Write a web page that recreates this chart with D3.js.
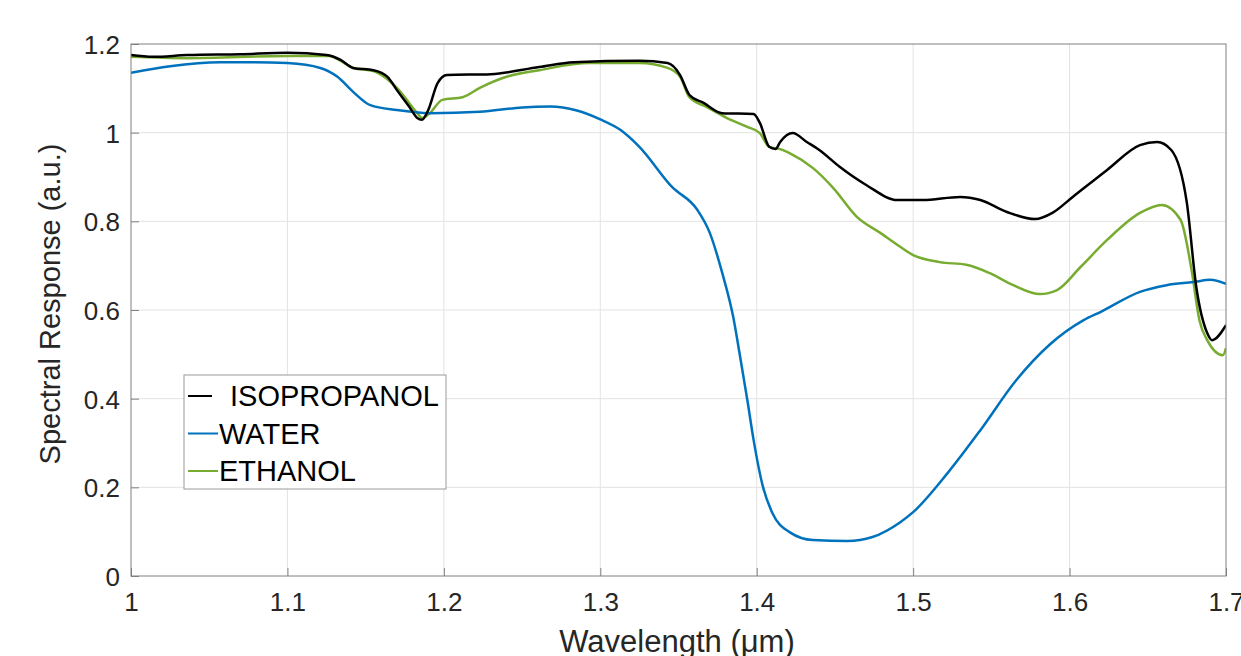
<!DOCTYPE html>
<html>
<head>
<meta charset="utf-8">
<script src="https://cdn.jsdelivr.net/npm/d3@7"></script>
<style>
  html, body { margin: 0; padding: 0; background: #fff; overflow: hidden; }
  svg { display: block; font-family: "Liberation Sans", Arial, sans-serif; }
</style>
</head>
<body>
<div id="chart"></div>
<script>
/* spectral response — three solvents */

const X_TICKS = [1, 1.1, 1.2, 1.3, 1.4, 1.5, 1.6, 1.7];
const Y_TICKS = [0, 0.2, 0.4, 0.6, 0.8, 1, 1.2];

const ISO_X = [1.000,1.014,1.036,1.070,1.100,1.125,1.134,1.142,1.155,1.164,1.170,1.178,1.183,1.186,1.190,1.196,1.202,1.230,1.261,1.283,1.325,1.343,1.351,1.357,1.366,1.378,1.398,1.402,1.408,1.412,1.415,1.423,1.432,1.440,1.453,1.470,1.490,1.506,1.530,1.543,1.560,1.578,1.589,1.602,1.624,1.645,1.656,1.665,1.675,1.681,1.688,1.691,1.700];
const ISO_Y = [1.175,1.171,1.175,1.177,1.180,1.175,1.164,1.146,1.141,1.126,1.096,1.058,1.033,1.029,1.051,1.112,1.130,1.132,1.148,1.159,1.162,1.157,1.130,1.085,1.067,1.044,1.042,1.022,0.968,0.963,0.979,0.999,0.979,0.961,0.923,0.882,0.848,0.848,0.855,0.848,0.821,0.805,0.819,0.855,0.916,0.972,0.979,0.961,0.841,0.652,0.548,0.532,0.566];

const WATER_X = [1.000,1.025,1.057,1.078,1.100,1.121,1.132,1.142,1.153,1.170,1.191,1.223,1.250,1.268,1.285,1.300,1.313,1.325,1.346,1.362,1.370,1.378,1.385,1.389,1.394,1.398,1.404,1.410,1.421,1.436,1.458,1.474,1.492,1.500,1.522,1.543,1.566,1.587,1.609,1.620,1.645,1.662,1.679,1.690,1.700];
const WATER_Y = [1.135,1.150,1.159,1.159,1.157,1.146,1.126,1.092,1.062,1.051,1.044,1.047,1.057,1.059,1.050,1.030,1.006,0.968,0.877,0.826,0.774,0.683,0.584,0.503,0.397,0.307,0.201,0.142,0.099,0.081,0.079,0.088,0.122,0.144,0.232,0.329,0.442,0.521,0.577,0.596,0.641,0.656,0.663,0.668,0.659];

const ETH_X = [1.000,1.036,1.100,1.127,1.134,1.142,1.155,1.161,1.170,1.183,1.186,1.191,1.199,1.212,1.223,1.240,1.261,1.293,1.325,1.343,1.351,1.357,1.368,1.381,1.394,1.402,1.408,1.415,1.421,1.436,1.449,1.464,1.479,1.492,1.500,1.517,1.534,1.549,1.564,1.581,1.592,1.607,1.624,1.645,1.659,1.671,1.678,1.683,1.688,1.698,1.700];
const ETH_Y = [1.171,1.168,1.173,1.173,1.162,1.146,1.139,1.128,1.101,1.044,1.033,1.044,1.074,1.080,1.101,1.126,1.141,1.157,1.157,1.146,1.126,1.080,1.058,1.033,1.013,0.999,0.968,0.963,0.954,0.920,0.875,0.810,0.774,0.742,0.724,0.708,0.702,0.683,0.656,0.636,0.645,0.697,0.758,0.819,0.837,0.803,0.690,0.577,0.532,0.498,0.514];

const SERIES = [
  { name: "ISOPROPANOL", xs: ISO_X, ys: ISO_Y, color: "#000000" },
  { name: "WATER", xs: WATER_X, ys: WATER_Y, color: "#0072BD" },
  { name: "ETHANOL", xs: ETH_X, ys: ETH_Y, color: "#77AC30" }
];

const W = 1241, H = 656,
      M = { top: 44, right: 15, bottom: 80, left: 131 },
      IW = 1226 - M.left, IH = 576 - M.top;

const svg = d3.select("#chart").append("svg")
  .attr("width", W).attr("height", H);

const g = svg.append("g").attr("transform", `translate(${M.left},${M.top})`);

const xS = d3.scaleLinear().domain([1, 1.7]).range([0, IW]);
const yS = d3.scaleLinear().domain([0, 1.2]).range([IH, 0]);

// grid
g.append("g").selectAll("line").data(X_TICKS.slice(1, -1)).join("line")
  .attr("x1", d => xS(d)).attr("x2", d => xS(d))
  .attr("y1", 0).attr("y2", IH)
  .attr("stroke", "#e3e3e3").attr("stroke-width", 1);
g.append("g").selectAll("line").data(Y_TICKS.slice(1, -1)).join("line")
  .attr("y1", d => yS(d)).attr("y2", d => yS(d))
  .attr("x1", 0).attr("x2", IW)
  .attr("stroke", "#e3e3e3").attr("stroke-width", 1);

// lines
const lineGen = d3.line().curve(d3.curveMonotoneX)
  .x(d => xS(d[0])).y(d => yS(d[1]));

g.append("defs").append("clipPath").attr("id", "clip")
  .append("rect").attr("x", 0).attr("y", -2).attr("width", IW).attr("height", IH + 4);

g.append("g").attr("clip-path", "url(#clip)")
  .selectAll("path").data(SERIES.slice().reverse()).join("path")
  .attr("fill", "none")
  .attr("stroke", d => d.color)
  .attr("stroke-width", 2.5)
  .attr("stroke-linejoin", "round")
  .attr("d", d => lineGen(d.xs.map((x, i) => [x, d.ys[i]])));

// axes box
const axisColor = "#808080";
g.append("rect").attr("x", 0).attr("y", 0).attr("width", IW).attr("height", IH)
  .attr("fill", "none").attr("stroke", axisColor).attr("stroke-width", 1);

// ticks (inward)
const xAxis = g.append("g").attr("transform", `translate(0,${IH})`)
  .call(d3.axisBottom(xS).tickValues(X_TICKS).tickSize(-8).tickPadding(17)
    .tickFormat(d => d3.format("~g")(d)));
const yAxis = g.append("g")
  .call(d3.axisLeft(yS).tickValues(Y_TICKS).tickSize(-8).tickPadding(11)
    .tickFormat(d => d3.format("~g")(d)));

[xAxis, yAxis].forEach(a => {
  a.select(".domain").remove();
  a.selectAll(".tick line").attr("stroke", axisColor);
  a.selectAll(".tick text").attr("fill", "#262626").style("font-size", "26px")
    .style("font-family", "'Liberation Sans', Arial, sans-serif");
});
yAxis.selectAll(".tick text").attr("dy", "0.36em");

// axis labels
svg.append("text")
  .attr("x", 677).attr("y", 652)
  .attr("text-anchor", "middle").attr("fill", "#262626")
  .style("font-size", "31px")
  .text("Wavelength (μm)");
svg.append("text")
  .attr("transform", `translate(60,${M.top + IH / 2 - 6}) rotate(-90)`)
  .attr("text-anchor", "middle").attr("fill", "#262626")
  .style("font-size", "29px")
  .text("Spectral Response (a.u.)");

// legend
const leg = svg.append("g").attr("transform", "translate(184,375)");
leg.append("rect").attr("width", 262).attr("height", 114)
  .attr("fill", "#fff").attr("stroke", "#9a9a9a").attr("stroke-width", 1);
const LEG_TEXT_X = [46, 35, 35];
SERIES.forEach((s, i) => {
  const y = 21 + i * 37.5;
  leg.append("line")
    .attr("x1", 4).attr("x2", i === 0 ? 28 : 34)
    .attr("y1", y).attr("y2", y)
    .attr("stroke", s.color).attr("stroke-width", 2);
  leg.append("text")
    .attr("x", LEG_TEXT_X[i]).attr("y", y).attr("dy", "0.36em")
    .attr("fill", "#000").style("font-size", "29px")
    .text(s.name);
});
</script>
</body>
</html>
